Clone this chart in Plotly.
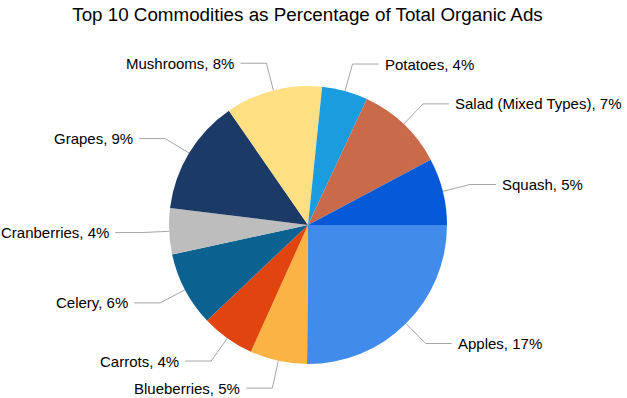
import math
import plotly.graph_objects as go

# ---- data ----
commodities = ["Apples", "Blueberries", "Carrots", "Celery", "Cranberries",
               "Grapes", "Mushrooms", "Potatoes", "Salad (Mixed Types)", "Squash"]
share_pct = [17.4, 4.6, 4.3, 6.0, 3.7, 9.3, 7.8, 3.7, 7.1, 5.4]
slice_colors = ["#418BEA", "#FBB443", "#E0450F", "#0B6291", "#BDBDBD",
                "#1C3A66", "#FEE082", "#1A9CDE", "#C96B4A", "#0559D7"]
title_text = "Top 10 Commodities as Percentage of Total Organic Ads"

# ---- layout geometry (pixels) ----
W, H = 627, 398
CX, CY, R = 308, 225, 139
ELBOW = 28      # radial length of leader
HORIZ = 26      # horizontal length of leader
GAP = 4
START_DEG = 90  # first slice starts at 3 o'clock, clockwise
FONT = "Liberation Sans, Arial, sans-serif"

def px(x):
    return x / W

def py(y):
    return 1 - y / H

fig = go.Figure()
fig.add_trace(go.Pie(
    labels=commodities,
    values=share_pct,
    sort=False,
    direction="clockwise",
    rotation=START_DEG,
    marker=dict(colors=slice_colors, line=dict(width=0)),
    textinfo="none",
    hoverinfo="label+value",
    showlegend=False,
    domain=dict(x=[px(CX - R), px(CX + R)], y=[py(CY + R), py(CY - R)]),
))

total = sum(share_pct)
shapes = []
annotations = []
cum = 0.0
for name, v in zip(commodities, share_pct):
    # angle measured clockwise from 3 o'clock, in screen coords (y down)
    mid = math.radians((cum + v / 2) / total * 360.0)
    cum += v
    c, s = math.cos(mid), math.sin(mid)
    x0, y0 = CX + R * c, CY + R * s
    x1, y1 = CX + (R + ELBOW) * c, CY + (R + ELBOW) * s
    side = 1 if c >= 0 else -1
    x2, y2 = x1 + side * HORIZ, y1
    shapes.append(dict(
        type="path", xref="paper", yref="paper", layer="above",
        path=f"M {px(x0)},{py(y0)} L {px(x1)},{py(y1)} L {px(x2)},{py(y2)}",
        line=dict(color="#A6A6A6", width=1),
    ))
    annotations.append(dict(
        x=px(x2 + side * GAP), y=py(y2), xref="paper", yref="paper",
        text=f"{name}, {round(v)}%", showarrow=False,
        xanchor="left" if side > 0 else "right", yanchor="middle",
        font=dict(family=FONT, size=15, color="#000000"),
    ))

fig.update_layout(
    width=W, height=H,
    margin=dict(l=0, r=0, t=0, b=0),
    paper_bgcolor="white", plot_bgcolor="white",
    title=dict(text=title_text, x=307.5 / W, xanchor="center", y=1 - 14 / H, yanchor="middle",
               font=dict(family=FONT, size=18.8, color="#000000")),
    shapes=shapes,
    annotations=annotations,
)

fig.write_html("out.html", config={"displayModeBar": False},
               post_script="document.body.style.margin='0';")
